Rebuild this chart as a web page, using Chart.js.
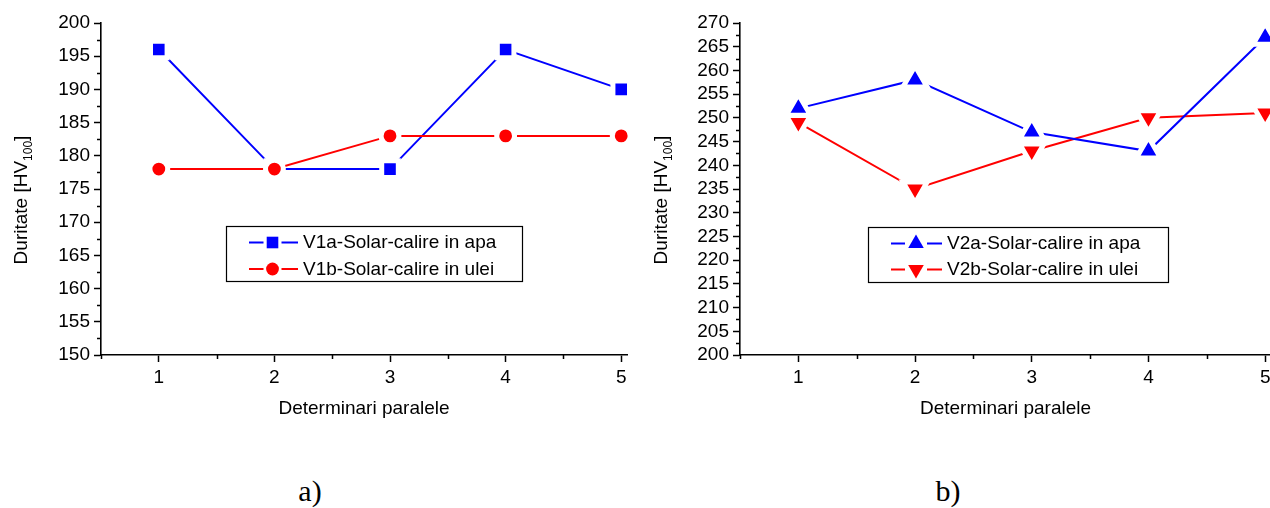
<!DOCTYPE html>
<html>
<head>
<meta charset="utf-8">
<script src="https://cdn.jsdelivr.net/npm/chart.js@4/dist/chart.umd.min.js"></script>
<style>
  html, body { margin: 0; padding: 0; background: #fff; width: 1270px; height: 508px; overflow: hidden; }
  .wrap { position: absolute; top: 0; height: 440px; width: 660px; }
  #wrapA { left: 0; }
  #wrapB { left: 640px; }
  .cap { position: absolute; top: 476px; width: 100px; text-align: center;
         font-family: "Liberation Serif", "Times New Roman", serif; font-size: 30px; line-height: 30px; color: #000; }
</style>
</head>
<body>
<div class="wrap" id="wrapA"><canvas id="chartA" width="660" height="440"></canvas></div>
<div class="wrap" id="wrapB"><canvas id="chartB" width="660" height="440"></canvas></div>
<div class="cap" style="left:260px">a)</div>
<div class="cap" style="left:898px">b)</div>

<script>
// Parallel determinations (x axis)
const determinari = [1, 2, 3, 4, 5];

// Variant 1 hardness, HV100
const v1a = [196, 178, 178, 196, 190];
const v1b = [178, 178, 183, 183, 183];

// Variant 2 hardness, HV100
const v2a = [252, 258, 247, 243, 267];
const v2b = [249, 235, 243, 250, 251];

const seriesNamesA = ['V1a-Solar-calire in apa', 'V1b-Solar-calire in ulei'];
const seriesNamesB = ['V2a-Solar-calire in apa', 'V2b-Solar-calire in ulei'];

const yLimitsA = [150, 200];
const yLimitsB = [200, 270];
const yStep = 5;
const xLimits = [0.5, 5.05];

const xTitle = 'Determinari paralele';
const yTitleMain = 'Duritate [HV';
const yTitleSub = '100';
const yTitleEnd = ']';

const FONT = '"Liberation Sans", Arial, Helvetica, sans-serif';
const FS = 19;
const BLUE = '#0000ff';
const RED = '#ff0000';

// Origin-style markers: a white ring leaves a small gap between line and marker
const RING = 5;
const markerStyles = {
  square:  { pointStyle: 'rect',     rotation: 0,   legendRadius: 8.2 },
  circle:  { pointStyle: 'circle',   rotation: 0,   legendRadius: 6.4 },
  triUp:   { pointStyle: 'triangle', rotation: 0,   legendRadius: 9.0 },
  triDown: { pointStyle: 'triangle', rotation: 180, legendRadius: 9.0 }
};
// enlarge the drawn path so the visible fill keeps its size under the white ring
function ringRadius(marker) {
  const m = markerStyles[marker];
  if (m.pointStyle === 'rect') return m.legendRadius + RING / 2 * Math.SQRT2;
  if (m.pointStyle === 'triangle') return m.legendRadius + RING;
  return m.legendRadius + RING / 2;
}

function toPoints(values) {
  return determinari.map((x, i) => ({ x: x, y: values[i] }));
}

function makeDataset(label, values, color, marker, order) {
  const m = markerStyles[marker];
  const r = ringRadius(marker);
  return {
    label: label,
    data: toPoints(values),
    borderColor: color,
    backgroundColor: color,
    borderWidth: 2,
    tension: 0,
    pointStyle: m.pointStyle,
    pointRotation: m.rotation,
    pointRadius: r,
    pointHoverRadius: r,
    pointBorderWidth: RING,
    pointHoverBorderWidth: RING,
    pointBorderColor: '#ffffff',
    pointBackgroundColor: color,
    clip: false,
    order: order,
    _marker: marker
  };
}

// Minor ticks, y title with subscript, and the boxed legend inside the plot
const axisExtras = {
  id: 'axisExtras',
  afterDraw(chart, args, opts) {
    const ctx = chart.ctx;
    const xs = chart.scales.x, ys = chart.scales.y;
    ctx.save();

    // minor ticks
    ctx.strokeStyle = '#000';
    ctx.lineWidth = 1.5;
    ctx.beginPath();
    for (let v = xs.min; v < xs.max; v += 1) {
      const px = Math.round(xs.getPixelForValue(v)) + 0.5;
      ctx.moveTo(px, xs.top);
      ctx.lineTo(px, xs.top + 4);
    }
    for (let v = ys.min + yStep / 2; v < ys.max; v += yStep) {
      const py = Math.round(ys.getPixelForValue(v)) + 0.5;
      ctx.moveTo(ys.right, py);
      ctx.lineTo(ys.right - 4, py);
    }
    ctx.stroke();

    // y axis title with subscript
    const t = opts.yTitle;
    const mainFont = FS + 'px ' + FONT;
    const subFont = '12px ' + FONT;
    ctx.fillStyle = '#000';
    ctx.textBaseline = 'alphabetic';
    ctx.textAlign = 'left';
    ctx.font = mainFont;
    const w1 = ctx.measureText(yTitleMain).width;
    const w3 = ctx.measureText(yTitleEnd).width;
    ctx.font = subFont;
    const w2 = ctx.measureText(yTitleSub).width;
    const total = w1 + w2 + w3;
    ctx.translate(t.x, t.y);
    ctx.rotate(-Math.PI / 2);
    let cx = -total / 2;
    ctx.font = mainFont;
    ctx.fillText(yTitleMain, cx, 0);
    cx += w1;
    ctx.font = subFont;
    ctx.fillText(yTitleSub, cx, 5);
    cx += w2;
    ctx.font = mainFont;
    ctx.fillText(yTitleEnd, cx, 0);
    ctx.setTransform(1, 0, 0, 1, 0, 0);

    // legend
    const L = opts.legend;
    ctx.lineWidth = 1.2;
    ctx.strokeStyle = '#000';
    ctx.strokeRect(L.x, L.y, L.w, L.h);
    chart.data.datasets.forEach((ds, i) => {
      const ry = L.rows[i];
      const m = markerStyles[ds._marker];
      ctx.strokeStyle = ds.borderColor;
      ctx.lineWidth = 2;
      ctx.beginPath();
      ctx.moveTo(L.line0, ry);
      ctx.lineTo(L.mark - L.gap, ry);
      ctx.moveTo(L.mark + L.gap, ry);
      ctx.lineTo(L.line1, ry);
      ctx.stroke();
      ctx.fillStyle = ds.borderColor;
      Chart.helpers.drawPoint(ctx, {
        pointStyle: m.pointStyle, rotation: m.rotation,
        radius: m.legendRadius, borderWidth: 0
      }, L.mark, ry);
      ctx.fillStyle = '#000';
      ctx.font = FS + 'px ' + FONT;
      ctx.textBaseline = 'middle';
      ctx.textAlign = 'left';
      ctx.fillText(ds.label, L.text, ry + 0.5);
    });
    ctx.restore();
  }
};

function makeChart(canvasId, datasets, yLimits, padRight, yAxisWidth, extras) {
  return new Chart(document.getElementById(canvasId), {
    type: 'line',
    data: { datasets: datasets },
    plugins: [axisExtras],
    options: {
      responsive: false,
      animation: false,
      events: [],
      layout: { padding: { top: 23, right: padRight, bottom: 0, left: 0 } },
      plugins: {
        legend: { display: false },
        tooltip: { enabled: false },
        axisExtras: extras
      },
      scales: {
        x: {
          type: 'linear',
          min: xLimits[0],
          max: xLimits[1],
          afterBuildTicks(scale) { scale.ticks = determinari.map(v => ({ value: v })); },
          afterFit(scale) { scale.height = 85; scale.paddingLeft = 0; scale.paddingRight = 0; },
          border: { display: true, color: '#000', width: 1.6 },
          grid: { drawOnChartArea: false, drawTicks: true, tickLength: 7, tickColor: '#000', tickWidth: 1.5 },
          ticks: { color: '#000', font: { family: FONT, size: FS }, padding: 4, maxRotation: 0, autoSkip: false },
          title: {
            display: true, text: xTitle, color: '#000',
            font: { family: FONT, size: FS }, padding: { top: 0, bottom: 20 }
          }
        },
        y: {
          min: yLimits[0],
          max: yLimits[1],
          afterFit(scale) { scale.width = yAxisWidth; scale.paddingTop = 0; scale.paddingBottom = 0; },
          border: { display: true, color: '#000', width: 1.6 },
          grid: { drawOnChartArea: false, drawTicks: true, tickLength: 7, tickColor: '#000', tickWidth: 1.5 },
          ticks: { stepSize: yStep, color: '#000', font: { family: FONT, size: FS }, padding: 4, autoSkip: false }
        }
      }
    }
  });
}

makeChart('chartA', [
  makeDataset(seriesNamesA[0], v1a, BLUE, 'square', 2),
  makeDataset(seriesNamesA[1], v1b, RED, 'circle', 1)
], yLimitsA, 33, 101, {
  yTitle: { x: 26.5, y: 200 },
  legend: { x: 226.5, y: 226.5, w: 296, h: 55, rows: [242.5, 269], line0: 249, line1: 298, mark: 272.5, gap: 9, text: 303 }
});

makeChart('chartB', [
  makeDataset(seriesNamesB[0], v2a, BLUE, 'triUp', 1),
  makeDataset(seriesNamesB[1], v2b, RED, 'triDown', 2)
], yLimitsB, 29, 100, {
  yTitle: { x: 27, y: 200 },
  legend: { x: 228.5, y: 227.5, w: 300, h: 55, rows: [243.5, 269.5], line0: 251, line1: 302, mark: 276, gap: 11, text: 307 }
});
</script>
</body>
</html>
